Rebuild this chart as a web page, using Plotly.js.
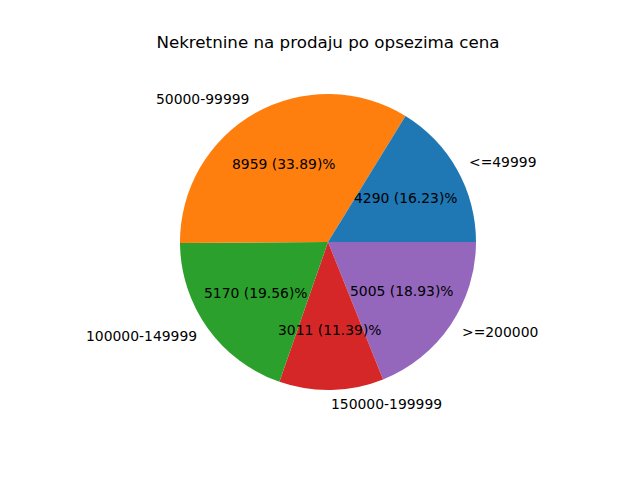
<!DOCTYPE html>
<html>
<head>
<meta charset="utf-8">
<script src="https://cdn.plot.ly/plotly-3.0.1.min.js"></script>
<style>html,body{margin:0;padding:0;background:#fff;}</style>
</head>
<body>
<div id="chart" style="width:640px;height:480px;"></div>
<script>
const categories = ["<=49999", "50000-99999", "100000-149999", "150000-199999", ">=200000"];
const counts = [4290, 8959, 5170, 3011, 5005];
const colors = ["#1f77b4", "#ff7f0e", "#2ca02c", "#d62728", "#9467bd"];

const W = 640, H = 480;
const cx = 328, cy = 242, R = 148;
const font = "DejaVu Sans, sans-serif";

const total = counts.reduce((a, b) => a + b, 0);
const annotations = [];
let cum = 0;
counts.forEach((v, i) => {
  const frac = v / total;
  const mid = (cum + frac / 2) * 2 * Math.PI;
  cum += frac;
  const c = Math.cos(mid), s = Math.sin(mid);
  annotations.push({
    xref: "paper", yref: "paper",
    x: (cx + 1.1 * R * c) / W, y: 1 - (cy - 1.1 * R * s) / H,
    text: categories[i], showarrow: false,
    xanchor: c > 0 ? "left" : "right", yanchor: "middle",
    xshift: c > 0 ? -3 : 3, yshift: 1,
    font: {family: font, size: 13.9, color: "#000"}
  });
  const pct = (frac * 100).toFixed(2);
  annotations.push({
    xref: "paper", yref: "paper",
    x: (cx + 0.6 * R * c) / W, y: 1 - (cy - 0.6 * R * s) / H,
    text: v + " (" + pct + ")%", showarrow: false,
    xanchor: "center", yanchor: "middle", yshift: 1,
    font: {family: font, size: 13.9, color: "#000"}
  });
});

// Drawn clockwise from 3 o'clock in reversed order = counterclockwise in original order
const trace = {
  type: "pie",
  labels: categories.slice().reverse(),
  values: counts.slice().reverse(),
  sort: false,
  direction: "clockwise",
  rotation: 90,
  textinfo: "none",
  hoverinfo: "none",
  marker: {colors: colors.slice().reverse(), line: {width: 0}},
  domain: {x: [(cx - R) / W, (cx + R) / W], y: [1 - (cy + R) / H, 1 - (cy - R) / H]},
  showlegend: false
};

const layout = {
  width: W, height: H,
  margin: {l: 0, r: 0, t: 0, b: 0},
  paper_bgcolor: "#fff",
  showlegend: false,
  title: {
    text: "Nekretnine na prodaju po opsezima cena",
    x: cx / W, xanchor: "center",
    y: 1 - 42 / H, yanchor: "middle", yref: "container",
    font: {family: font, size: 16.7, color: "#000"}
  },
  annotations: annotations
};

Plotly.newPlot("chart", [trace], layout, {staticPlot: true});
</script>
</body>
</html>
